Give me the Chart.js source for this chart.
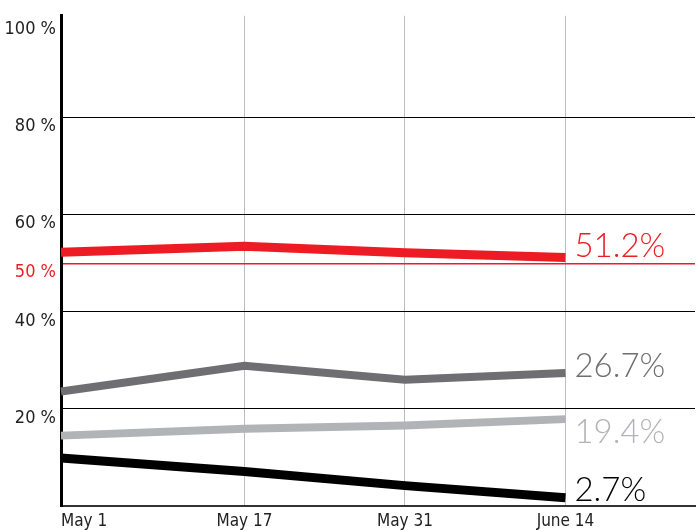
<!DOCTYPE html>
<html>
<head>
<meta charset="utf-8">
<script src="https://cdn.jsdelivr.net/npm/chart.js@4/dist/chart.umd.min.js"></script>
<style>
  body { margin: 0; background: #fff; }
  canvas { display: block; }
</style>
</head>
<body>
<canvas id="chart" width="700" height="531"></canvas>
<script>
// Data
const dayOffsets = [0, 16, 30, 44]; // days since May 1
const dateLabels = ["May 1", "May 17", "May 31", "June 14"];
const yTickValues = [20, 40, 50, 60, 80, 100];

const redValues = [52.3, 53.5, 52.2, 51.2];
const darkGrayValues = [23.6, 28.9, 26.0, 27.4];
const lightGrayValues = [14.5, 15.9, 16.6, 17.9];
const blackValues = [9.9, 7.1, 4.2, 1.7];
const endLabels = ["51.2%", "26.7%", "19.4%", "2.7%"];

const X_MAX = 55.3;
const colors = ["#ED1C24", "#6F6F73", "#B1B3B6", "#000000"];
const labelShift = [-11, -7, 13, -7]; // px nudges for the end labels
const narrowFont = "'Liberation Sans Narrow', 'DejaVu Sans Condensed', sans-serif";

function toPoints(values) {
  return values.map((v, i) => ({ x: dayOffsets[i], y: v }));
}

function makeDataset(values, color, width) {
  return {
    data: toPoints(values),
    borderColor: color,
    borderWidth: width,
    pointRadius: 0,
    tension: 0,
    borderCapStyle: "butt",
    borderJoinStyle: "miter",
    clip: false,
  };
}

// Draws the final value next to the end of each line
const endLabelPlugin = {
  id: "endLabels",
  afterDatasetsDraw(chart) {
    const ctx = chart.ctx;
    ctx.save();
    ctx.font = "300 33px Lato, sans-serif";
    ctx.textBaseline = "middle";
    ctx.textAlign = "left";
    chart.data.datasets.forEach((ds, i) => {
      const meta = chart.getDatasetMeta(i);
      const last = meta.data[meta.data.length - 1];
      ctx.fillStyle = colors[i];
      ctx.fillText(endLabels[i], last.x + 9, last.y + labelShift[i]);
    });
    ctx.restore();
  },
};

new Chart(document.getElementById("chart"), {
  type: "line",
  data: {
    datasets: [
      makeDataset(redValues, colors[0], 9),
      makeDataset(darkGrayValues, colors[1], 8),
      makeDataset(lightGrayValues, colors[2], 8),
      makeDataset(blackValues, colors[3], 9),
    ],
  },
  options: {
    responsive: false,
    animation: false,
    devicePixelRatio: 1,
    layout: { padding: { top: 14, right: 0, left: 0, bottom: 0 } },
    plugins: { legend: { display: false }, tooltip: { enabled: false } },
    scales: {
      x: {
        type: "linear",
        min: 0,
        max: X_MAX,
        afterBuildTicks: (scale) => {
          scale.ticks = dayOffsets.concat([X_MAX]).map((v) => ({ value: v }));
        },
        afterFit: (scale) => { scale.height = 25; },
        ticks: {
          autoSkip: false,
          maxRotation: 0,
          align: "inner",
          padding: 5,
          color: "#222",
          font: { family: narrowFont, size: 17 },
          callback: (v, i) => dateLabels[i] || "",
        },
        grid: {
          drawTicks: false,
          lineWidth: 1,
          color: (c) => (c.tick && c.tick.value > 0 && c.tick.value < X_MAX ? "#BDBDBD" : "rgba(0,0,0,0)"),
        },
        border: { color: "#333", width: 2 },
      },
      y: {
        min: 0,
        max: 101,
        afterBuildTicks: (scale) => {
          scale.ticks = yTickValues.map((v) => ({ value: v }));
        },
        afterFit: (scale) => { scale.width = 61; },
        ticks: {
          padding: 5,
          labelOffset: 9,
          color: (c) => (c.tick && c.tick.value === 50 ? "#ED1C24" : "#222"),
          font: { family: narrowFont, size: 18 },
          callback: (v) => v + " %",
        },
        grid: {
          drawTicks: false,
          color: (c) => {
            if (!c.tick) return "rgba(0,0,0,0)";
            if (c.tick.value === 50) return "#ED1C24";
            if (c.tick.value === 100) return "rgba(0,0,0,0)";
            return "#000";
          },
          lineWidth: (c) => (c.tick && c.tick.value === 50 ? 1.5 : 1),
        },
        border: { color: "#000", width: 3 },
      },
    },
  },
  plugins: [endLabelPlugin],
});
</script>
</body>
</html>
